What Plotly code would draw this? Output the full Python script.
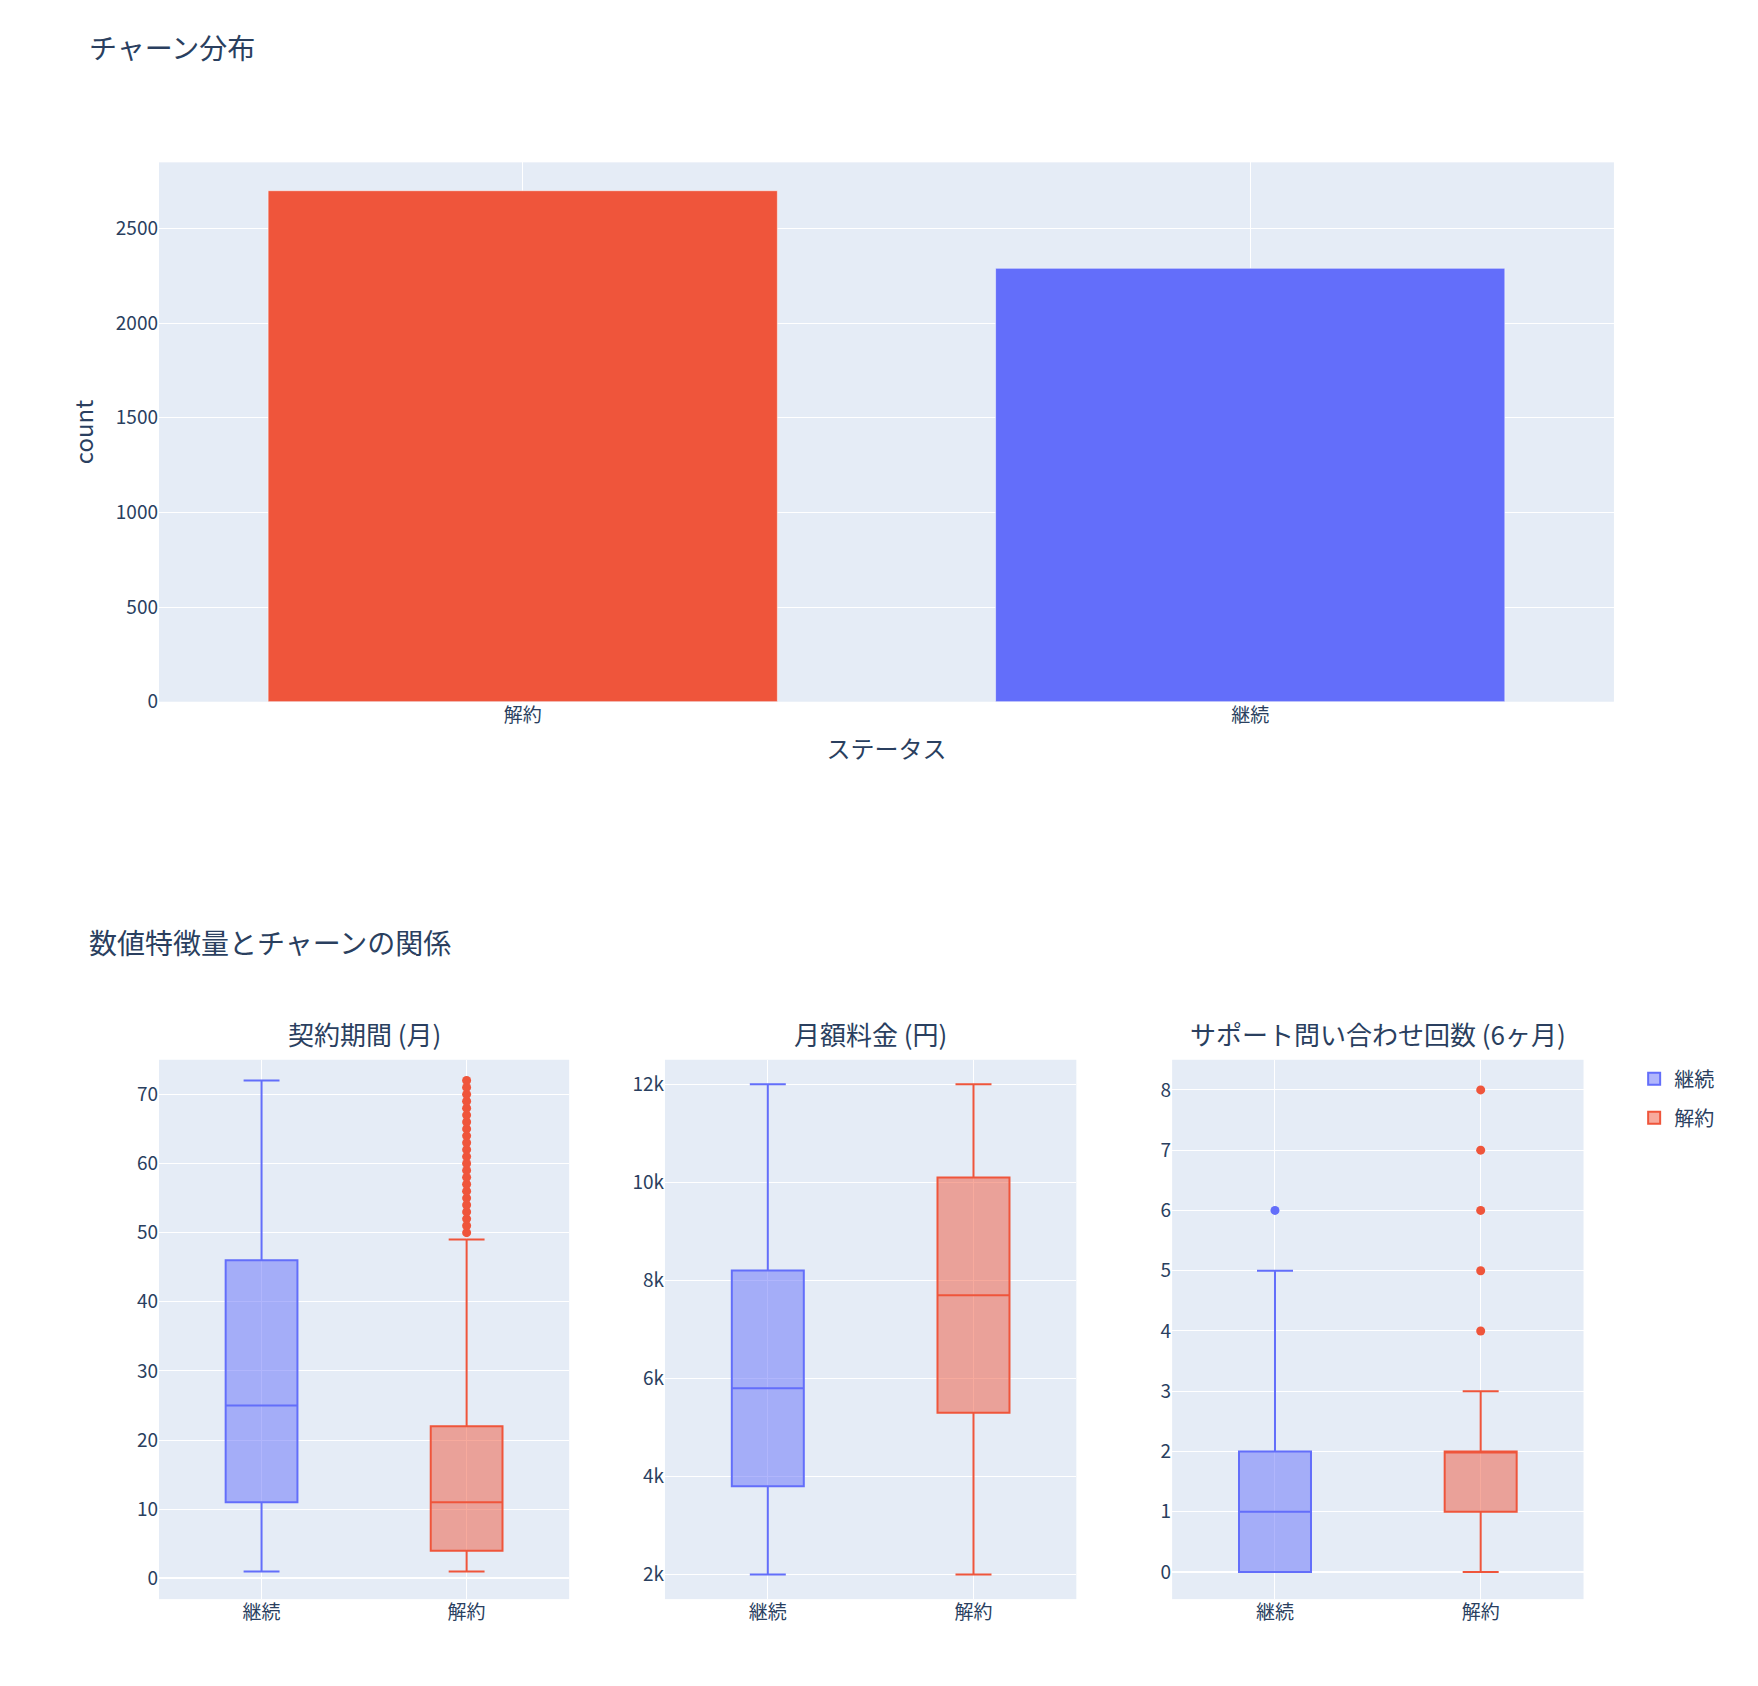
import plotly.graph_objects as go

bar_cats = ["解約", "継続"]
bar_counts = [2700, 2290]
groups = ["継続", "解約"]
colors = {"継続": "#636EFA", "解約": "#EF553B"}
titles = ["契約期間 (月)", "月額料金 (円)", "サポート問い合わせ回数 (6ヶ月)"]
# stats: lower, q1, median, q3, upper
stats = [
    {"継続": [1, 11, 25, 46, 72], "解約": [1, 4, 11, 22, 49]},
    {"継続": [2000, 3800, 5800, 8200, 12000], "解約": [2000, 5300, 7700, 10100, 12000]},
    {"継続": [0, 0, 1, 2, 5], "解約": [0, 1, 2, 2, 3]},
]
outliers = [
    {"継続": [], "解約": list(range(50, 73))},
    {"継続": [], "解約": []},
    {"継続": [6], "解約": [4, 5, 6, 7, 8]},
]
yranges = [[-3, 75], [1500, 12500], [-0.45, 8.5]]

fig = go.Figure()
fig.add_trace(go.Bar(x=bar_cats, y=bar_counts, marker_color=[colors[c] for c in bar_cats],
                     showlegend=False, xaxis="x", yaxis="y"))

xdoms = [[0.0859, 0.3192], [0.3737, 0.6077], [0.6622, 0.8962]]
for i in range(3):
    ax = str(i + 2)
    for g in groups:
        lo, q1, med, q3, up = stats[i][g]
        fig.add_trace(go.Box(x=[g], lowerfence=[lo], q1=[q1], median=[med], q3=[q3], upperfence=[up],
                             name=g, marker_color=colors[g], legendgroup=g, showlegend=(i == 0),
                             xaxis="x" + ax, yaxis="y" + ax))
        if outliers[i][g]:
            fig.add_trace(go.Scatter(x=[g] * len(outliers[i][g]), y=outliers[i][g], mode="markers",
                                     marker=dict(color=colors[g], size=9), showlegend=False,
                                     legendgroup=g, hoverinfo="y", xaxis="x" + ax, yaxis="y" + ax))
    fig.add_annotation(text=titles[i], x=(xdoms[i][0] + xdoms[i][1]) / 2, y=0.375, xref="paper",
                       yref="paper", xanchor="center", yanchor="bottom", showarrow=False,
                       font=dict(size=26))

lay = dict(
    width=1758, height=1686, template="plotly_white",
    plot_bgcolor="#E5ECF6", paper_bgcolor="white",
    margin=dict(l=0, r=0, t=0, b=0),
    font=dict(family="Noto Sans CJK JP", size=19, color="#2a3f5f"),
    bargap=0.3, boxgap=0.5, boxmode="overlay",
    xaxis=dict(domain=[0.0859, 0.9135], anchor="y", title=dict(text="ステータス", font=dict(size=24)),
               categoryorder="array", categoryarray=bar_cats),
    yaxis=dict(domain=[0.5856, 0.9078], anchor="x", range=[0, 2850], title=dict(text="count", font=dict(size=24)),
               gridcolor="white", zeroline=False),
    legend=dict(x=0.925, y=0.372, xanchor="left", yanchor="top", font=dict(size=20)),
)
for i in range(3):
    ax = str(i + 2)
    lay["xaxis" + ax] = dict(domain=xdoms[i], anchor="y" + ax, categoryorder="array", categoryarray=groups)
    ya = dict(domain=[0.0495, 0.3717], anchor="x" + ax, range=yranges[i], gridcolor="white",
              zeroline=True, zerolinecolor="white", zerolinewidth=2)
    if i == 1:
        ya["dtick"] = 2000
        ya["zeroline"] = False
    lay["yaxis" + ax] = ya
fig.update_layout(**lay)
fig.update_xaxes(gridcolor="white")
fig.add_annotation(text="チャーン分布", x=0.045, y=0.99, xref="paper", yref="paper", xanchor="left",
                   yanchor="top", showarrow=False, font=dict(size=28))
fig.add_annotation(text="数値特徴量とチャーンの関係", x=0.045, y=0.455, xref="paper", yref="paper",
                   xanchor="left", yanchor="top", showarrow=False, font=dict(size=28))
fig.write_html("out.html")
